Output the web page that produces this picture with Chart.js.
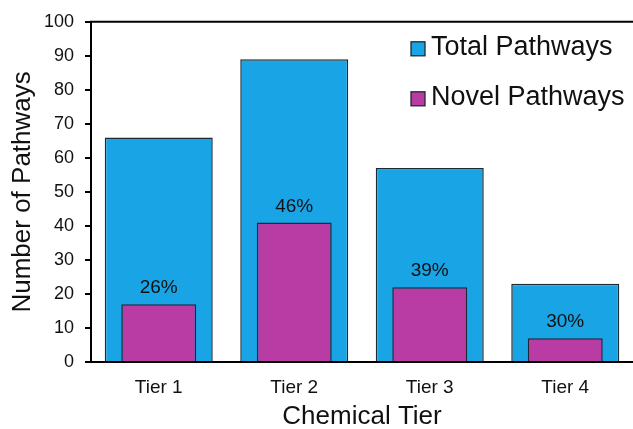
<!DOCTYPE html>
<html>
<head>
<meta charset="utf-8">
<title>Pathways by Chemical Tier</title>
<script src="https://cdn.jsdelivr.net/npm/chart.js@4.4.1/dist/chart.umd.min.js"></script>
<style>
  html, body { margin: 0; padding: 0; background: #fff; }
  #wrap { width: 633px; height: 429px; }
</style>
</head>
<body>
<div id="wrap"><canvas id="chart" width="633" height="429"></canvas></div>
<script>
// Data
const categories = ['Tier 1', 'Tier 2', 'Tier 3', 'Tier 4'];
const totalPathways = [66, 89, 57, 23];
const novelPathways = [17, 41, 22, 7];
const seriesNames = ['Total Pathways', 'Novel Pathways'];

// Styling
const FONT = "'Liberation Sans', Arial, Helvetica, sans-serif";
const BLUE = '#19a4e6';
const PURPLE = '#b83ca3';
const EDGE = '#1d2a33';
const TEXT = '#111111';

// Share of novel pathways within each tier, shown above the novel bars
const novelShare = novelPathways.map((v, i) => Math.round(100 * v / totalPathways[i]) + '%');

// Top frame line of the plot area
const frameTop = {
  id: 'frameTop',
  afterDraw(chart) {
    const { ctx, chartArea } = chart;
    ctx.save();
    ctx.strokeStyle = '#000';
    ctx.lineWidth = 2;
    ctx.beginPath();
    ctx.moveTo(chartArea.left - 1, chartArea.top);
    ctx.lineTo(chartArea.right, chartArea.top);
    ctx.stroke();
    ctx.restore();
  }
};

// Percentage labels above the novel-pathway bars
const shareLabels = {
  id: 'shareLabels',
  afterDatasetsDraw(chart) {
    const { ctx } = chart;
    const meta = chart.getDatasetMeta(1);
    ctx.save();
    ctx.font = '19px ' + FONT;
    ctx.fillStyle = TEXT;
    ctx.textAlign = 'center';
    ctx.textBaseline = 'alphabetic';
    meta.data.forEach((bar, i) => {
      ctx.fillText(novelShare[i], bar.x, bar.y - 11);
    });
    ctx.restore();
  }
};

// Legend drawn inside the top-right corner of the plot area
const insideLegend = {
  id: 'insideLegend',
  afterDraw(chart) {
    const { ctx, chartArea } = chart;
    const boxX = chartArea.right - 222;
    const textX = chartArea.right - 202;
    ctx.save();
    ctx.font = '27px ' + FONT;
    ctx.textBaseline = 'middle';
    ctx.textAlign = 'left';
    chart.data.datasets.forEach((ds, i) => {
      const cy = chartArea.top + 26 + i * 50;
      ctx.fillStyle = ds.backgroundColor;
      ctx.fillRect(boxX, cy - 6, 14, 14);
      ctx.strokeStyle = EDGE;
      ctx.lineWidth = 1.3;
      ctx.strokeRect(boxX, cy - 6, 14, 14);
      ctx.fillStyle = TEXT;
      ctx.fillText(ds.label, textX, cy);
    });
    ctx.restore();
  }
};

new Chart(document.getElementById('chart'), {
  type: 'bar',
  data: {
    labels: categories,
    datasets: [
      {
        label: seriesNames[0],
        data: totalPathways,
        backgroundColor: BLUE,
        borderColor: EDGE,
        borderWidth: 1.5,
        barPercentage: 0.797,
        categoryPercentage: 1,
        grouped: false,
        order: 1
      },
      {
        label: seriesNames[1],
        data: novelPathways,
        backgroundColor: PURPLE,
        borderColor: EDGE,
        borderWidth: 1.5,
        barPercentage: 0.553,
        categoryPercentage: 1,
        grouped: false,
        order: 0
      }
    ]
  },
  options: {
    responsive: false,
    animation: false,
    devicePixelRatio: 1,
    layout: { padding: { top: 19, right: 0, left: 0, bottom: 0 } },
    plugins: {
      legend: { display: false },
      tooltip: { enabled: false }
    },
    scales: {
      x: {
        grid: { display: false },
        border: { display: true, color: '#000', width: 2 },
        ticks: { font: { family: FONT, size: 19 }, color: TEXT, padding: 6 },
        title: {
          display: true,
          text: 'Chemical Tier',
          font: { family: FONT, size: 26, lineHeight: 0.8 },
          color: TEXT,
          padding: { top: 0, bottom: 1.5 }
        },
        afterFit(scale) { scale.height = 67; }
      },
      y: {
        min: 0,
        max: 100,
        ticks: { stepSize: 10, font: { family: FONT, size: 18 }, color: TEXT, padding: 11 },
        grid: { drawOnChartArea: false, drawTicks: true, tickLength: 6, color: '#000', lineWidth: 2 },
        border: { display: true, color: '#000', width: 2 },
        title: {
          display: true,
          text: 'Number of Pathways',
          font: { family: FONT, size: 26, lineHeight: 1 },
          color: TEXT,
          padding: { top: 10, bottom: 0 }
        },
        afterFit(scale) { scale.width = 91; }
      }
    }
  },
  plugins: [frameTop, shareLabels, insideLegend]
});
</script>
</body>
</html>
